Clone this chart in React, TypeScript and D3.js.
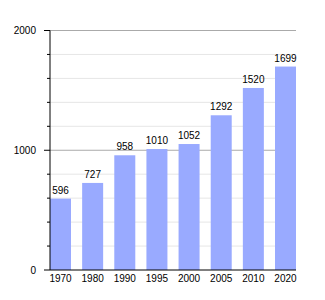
import React from "react";
import * as d3 from "d3";

const years = ["1970", "1980", "1990", "1995", "2000", "2005", "2010", "2020"];
const population = [596, 727, 958, 1010, 1052, 1292, 1520, 1699];
const majorTicks = [0, 1000, 2000];
const minorTicks = [200, 400, 600, 800, 1200, 1400, 1600, 1800];

export default function App() {
  const W = 325, H = 300;
  const left = 50, right = 296, top = 30.5, bottom = 270;
  const x = d3.scaleBand<string>().domain(years).range([left, right]).paddingInner(0.3466).paddingOuter(0);
  const y = d3.scaleLinear().domain([0, 2000]).range([bottom, top]);
  const font = "'Liberation Sans', Arial, sans-serif";
  return (
    <svg width={W} height={H} style={{ position: "absolute", left: 0, top: 0, background: "#fff" }} fontFamily={font} fontSize={10}>
      {minorTicks.map((t) => (
        <g key={"m" + t}>
          <line x1={left} x2={right} y1={y(t)} y2={y(t)} stroke="#e6e6e6" strokeWidth={1} />
          <line x1={left - 3} x2={left} y1={y(t)} y2={y(t)} stroke="#000" strokeWidth={1} />
        </g>
      ))}
      {majorTicks.map((t) => (
        <g key={"M" + t}>
          {t > 0 && <line x1={left} x2={right} y1={y(t)} y2={y(t)} stroke="#aaaaaa" strokeWidth={1} />}
          <line x1={left - 6} x2={left} y1={y(t)} y2={y(t)} stroke="#000" strokeWidth={1} />
          <text x={36} y={y(t)} dy="0.35em" textAnchor="end" fill="#000">{t}</text>
        </g>
      ))}
      {years.map((yr, i) => (
        <g key={yr}>
          <rect x={x(yr)} y={y(population[i])} width={x.bandwidth()} height={bottom - y(population[i])} fill="#99aaff" />
          <text x={(x(yr) as number) + x.bandwidth() / 2} y={y(population[i]) - 5} textAnchor="middle" fill="#000">{population[i]}</text>
          <text x={(x(yr) as number) + x.bandwidth() / 2} y={bottom + 12} textAnchor="middle" fill="#000">{yr}</text>
        </g>
      ))}
      <line x1={left} x2={left} y1={top} y2={bottom} stroke="#000" strokeWidth={1} />
      <line x1={left} x2={right} y1={bottom} y2={bottom} stroke="#000" strokeWidth={1} />
    </svg>
  );
}
